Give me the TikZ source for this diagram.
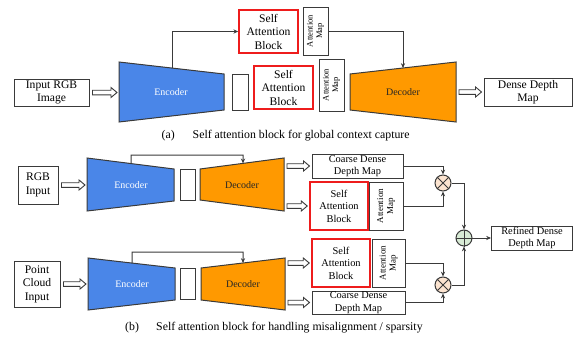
\documentclass[tikz,border=0pt]{standalone}
\usepackage{fontspec}
\setmainfont{Liberation Serif}
\usetikzlibrary{calc,arrows.meta}

\definecolor{encblue}{HTML}{4A86E8}
\definecolor{decorange}{HTML}{FF9900}
\definecolor{sabred}{HTML}{EE1C1C}
\definecolor{linegray}{HTML}{3A3A3A}
\definecolor{mulfill}{HTML}{FCE4D0}
\definecolor{addfill}{HTML}{D8EBD5}

\newcommand\bxfont{\fontsize{11.6}{13.5}\selectfont}
\newcommand\smfont{\fontsize{10.4}{12.4}\selectfont}
\newcommand\amfont{\fontsize{8.5}{9.5}\selectfont}
\newcommand\ambfont{\fontsize{9}{10}\selectfont}
\newcommand\lblfont{\fontsize{10}{12}\selectfont}
\newcommand\capfont{\fontsize{11.8}{14}\selectfont}

\begin{document}
\begin{tikzpicture}[x=1pt,y=-1pt,
  box/.style={draw=linegray, line width=1pt, align=center, inner sep=0pt,
    font=\bxfont},
  sab/.style={draw=sabred, line width=1.5pt, align=center, inner sep=0pt,
    font=\bxfont},
  amap/.style={draw=linegray, line width=1pt, inner sep=0pt},
  amtext/.style={rotate=90, align=center, inner sep=0pt, font=\amfont},
  trap/.style={draw=linegray, line width=1pt},
  enclabel/.style={text=white, font=\lblfont, inner sep=0pt},
  declabel/.style={text=black!85, font=\lblfont, inner sep=0pt},
  flow/.style={draw=linegray, line width=1pt, -{Stealth[length=4.8pt,width=4.2pt]}},
  hollow/.style={draw=linegray, line width=0.9pt, fill=white,
    to path={let \p1=(\tikztostart), \p2=(\tikztotarget) in
      (\x1+3pt,\y1+2.3pt) -- (\x2-8pt,\y1+2.3pt) -- (\x2-8pt,\y1+5pt)
      -- (\x2-2pt,\y1) -- (\x2-8pt,\y1-5pt) -- (\x2-8pt,\y1-2.3pt)
      -- (\x1+3pt,\y1-2.3pt) -- cycle}},
  op/.style={circle, draw=linegray, line width=1pt, minimum size=16pt,
    inner sep=0pt},
  captext/.style={anchor=west, inner sep=0pt, font=\capfont}
]
\useasboundingbox (0,0) rectangle (573,340);

% ---------------- (a) global context ----------------
\node[box, minimum width=75, minimum height=27] (inrgb) at (51.5,92.5)
  {Input RGB\\Image};

\coordinate (ea1) at (119,62);
\coordinate (ea2) at (224,74);
\coordinate (ea3) at (224,110);
\coordinate (ea4) at (119,122);
\draw[trap, fill=encblue] (ea1) -- (ea2) -- (ea3) -- (ea4) -- cycle;
\node[enclabel] (encA) at (171,92) {Encoder};

\node[amap, minimum width=16, minimum height=36] (botA) at (240,92) {};

\node[sab, minimum width=59, minimum height=43] (sab1) at (268.5,31.5)
  {Self\\Attention\\Block};
\node[amap, minimum width=25, minimum height=48] (am1) at (315.5,31) {};
\node[amtext] (am1t) at (am1) {Attention\\Map};

\node[sab, minimum width=59, minimum height=43] (sab2) at (283.5,87.5)
  {Self\\Attention\\Block};
\node[amap, minimum width=25, minimum height=52] (am2) at (331.5,85) {};
\node[amtext] (am2t) at (am2) {Attention\\Map};

\coordinate (da1) at (350,74);
\coordinate (da2) at (456,62);
\coordinate (da3) at (456,122);
\coordinate (da4) at (350,110);
\draw[trap, fill=decorange] (da1) -- (da2) -- (da3) -- (da4) -- cycle;
\node[declabel] (decA) at (403,92) {Decoder};

\node[box, minimum width=88, minimum height=28] (ddm) at (528,92)
  {Dense Depth\\Map};

\draw[hollow] (inrgb.east) to (inrgb.east -| ea1);
\draw[hollow] (ddm.west -| da2) to (ddm.west);

\coordinate (skA) at ($(ea1)!0.505!(ea2)$);
\draw[flow] (skA) |- (sab1.west);
\coordinate (skA2) at ($(da1)!0.5!(da2)$);
\draw[flow] (am1.east) -| (skA2);

\node[captext] (capAl) at (161.5,136) {(a)};
\node[captext] (capAt) at (192.5,136) {Self attention block for global context capture};

% ---------------- (b) misalignment / sparsity ----------------
% RGB branch
\node[box, minimum width=40, minimum height=38] (rgbin) at (38,185)
  {RGB\\Input};
\coordinate (eb1) at (87,158);
\coordinate (eb2) at (174,169);
\coordinate (eb3) at (174,201);
\coordinate (eb4) at (87,211);
\draw[trap, fill=encblue] (eb1) -- (eb2) -- (eb3) -- (eb4) -- cycle;
\node[enclabel] (encB1) at (131,185) {Encoder};
\node[amap, minimum width=15, minimum height=31] (botB1) at (187.5,184.5) {};
\coordinate (db1) at (200,169);
\coordinate (db2) at (284,158);
\coordinate (db3) at (284,211);
\coordinate (db4) at (200,200);
\draw[trap, fill=decorange] (db1) -- (db2) -- (db3) -- (db4) -- cycle;
\node[declabel] (decB1) at (242,185) {Decoder};

\draw[hollow] (rgbin.east) to (rgbin.east -| eb1);
\coordinate (skB1) at ($(eb1)!0.506!(eb2)$);
\coordinate (topB1) at (131,155);
\coordinate (skB1d) at ($(db1)!0.512!(db2)$);
\draw[flow] (skB1) -- (topB1) -| (skB1d);

\node[box, font=\smfont, minimum width=91, minimum height=24] (coarse1) at (357.5,166)
  {Coarse Dense\\Depth Map};
\node[sab, font=\smfont, minimum width=58, minimum height=48] (sabb1) at (339,206)
  {Self\\Attention\\Block};
\node[amap, minimum width=34, minimum height=48] (amb1) at (386,206) {};
\node[amtext, font=\ambfont] (amb1t) at (amb1) {Attention\\Map};

\draw[hollow] (coarse1.west -| db2) to (coarse1.west);
\draw[hollow] (sabb1.west -| db2) to (sabb1.west);

% Point cloud branch
\node[box, minimum width=46, minimum height=46] (pci) at (37,284)
  {Point\\Cloud\\Input};
\coordinate (ec1) at (88,258);
\coordinate (ec2) at (175,268);
\coordinate (ec3) at (175,300);
\coordinate (ec4) at (88,310);
\draw[trap, fill=encblue] (ec1) -- (ec2) -- (ec3) -- (ec4) -- cycle;
\node[enclabel] (encB2) at (132,284) {Encoder};
\node[amap, minimum width=15, minimum height=31] (botB2) at (187.5,283.5) {};
\coordinate (dc1) at (201,268);
\coordinate (dc2) at (285,258);
\coordinate (dc3) at (285,310);
\coordinate (dc4) at (201,300);
\draw[trap, fill=decorange] (dc1) -- (dc2) -- (dc3) -- (dc4) -- cycle;
\node[declabel] (decB2) at (243,284) {Decoder};

\draw[hollow] (pci.east) to (pci.east -| ec1);
\coordinate (skB2) at ($(ec1)!0.506!(ec2)$);
\coordinate (topB2) at (132,252);
\coordinate (skB2d) at ($(dc1)!0.5!(dc2)$);
\draw[flow] (skB2) -- (topB2) -| (skB2d);

\node[sab, font=\smfont, minimum width=58, minimum height=48] (sabb2) at (341,263)
  {Self\\Attention\\Block};
\node[amap, minimum width=33, minimum height=48] (amb2) at (388.5,263) {};
\node[amtext, font=\ambfont] (amb2t) at (amb2) {Attention\\Map};
\node[box, font=\smfont, minimum width=93, minimum height=23] (coarse2) at (358.5,302.5)
  {Coarse Dense\\Depth Map};

\draw[hollow] (sabb2.west -| dc2) to (sabb2.west);
\draw[hollow] (coarse2.west -| dc2) to (coarse2.west);

% fusion
\node[op, fill=mulfill] (m1) at (443,183) {};
\draw[linegray, line width=1pt] (m1.north east) -- (m1.south west)
  (m1.north west) -- (m1.south east);
\node[op, fill=mulfill] (m2) at (443,285) {};
\draw[linegray, line width=1pt] (m2.north east) -- (m2.south west)
  (m2.north west) -- (m2.south east);
\node[op, fill=addfill] (pl) at (464,238) {};
\draw[linegray, line width=1pt] (pl.north) -- (pl.south) (pl.west) -- (pl.east);

\node[box, font=\smfont, minimum width=81, minimum height=24] (refined) at (532,238)
  {Refined Dense\\Depth Map};

\draw[flow] (coarse1.east) -| (m1.north);
\draw[flow] (amb1.east) -| (m1.south);
\draw[flow] (m1.east) -| (pl.north);
\draw[flow] (amb2.east) -| (m2.north);
\draw[flow] (coarse2.east) -| (m2.south);
\draw[flow] (m2.east) -| (pl.south);
\draw[flow] (pl.east) -- (refined.west);

\node[captext] (capBl) at (125,328) {(b)};
\node[captext] (capBt) at (156,328) {Self attention block for handling misalignment / sparsity};
\end{tikzpicture}
\end{document}
